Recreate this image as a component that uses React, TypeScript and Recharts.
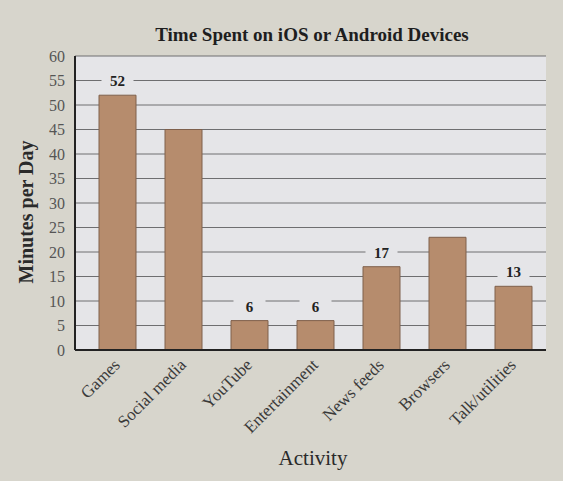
import React from 'react';
import { BarChart, Bar, XAxis, YAxis, CartesianGrid, LabelList } from 'recharts';

const activities = ['Games', 'Social media', 'YouTube', 'Entertainment', 'News feeds', 'Browsers', 'Talk/utilities'];
const minutes = [52, 45, 6, 6, 17, 23, 13];
// only some bars carry a value label in the original
const shownLabels = ['52', '', '6', '6', '17', '', '13'];
const yTicks = [0, 5, 10, 15, 20, 25, 30, 35, 40, 45, 50, 55, 60];

const data = activities.map((name, i) => ({ name, minutes: minutes[i], label: shownLabels[i] }));

const serif = '"Liberation Serif", "DejaVu Serif", serif';
const plotBg = '#e5e5e8';

const XTick = (props: any) => {
  const { x, y, payload } = props;
  return (
    <text
      x={x + 4}
      y={y + 8}
      transform={`rotate(-45, ${x + 4}, ${y + 8})`}
      textAnchor="end"
      fontFamily={serif}
      fontSize={17}
      fill="#3a3a3a"
    >
      {payload.value}
    </text>
  );
};

const ValueLabel = (props: any) => {
  const { x, y, width, value } = props;
  if (!value) return null;
  const cx = x + width / 2;
  return (
    <g>
      <rect x={cx - 16} y={y - 22} width={32} height={16} fill={plotBg} />
      <text x={cx} y={y - 9} textAnchor="middle" fontFamily={serif} fontWeight="bold" fontSize={15} fill="#222">
        {value}
      </text>
    </g>
  );
};

export default function App() {
  return (
    <div style={{ position: 'absolute', left: 0, top: 0, width: 563, height: 481, background: '#d7d5cc', overflow: 'hidden' }}>
      <div
        style={{
          position: 'absolute', left: 0, top: 24, width: 624, textAlign: 'center',
          fontFamily: serif, fontWeight: 'bold', fontSize: 19, color: '#1e1e1e',
        }}
      >
        Time Spent on iOS or Android Devices
      </div>
      <div
        style={{
          position: 'absolute', left: 26, top: 212, transform: 'translate(-50%, -50%) rotate(-90deg)',
          whiteSpace: 'nowrap', fontFamily: serif, fontWeight: 'bold', fontSize: 20, color: '#2a2a2a',
        }}
      >
        Minutes per Day
      </div>
      <div
        style={{
          position: 'absolute', left: 0, top: 446, width: 626, textAlign: 'center',
          fontFamily: serif, fontSize: 21, color: '#2a2a2a',
        }}
      >
        Activity
      </div>
      <BarChart
        width={563}
        height={481}
        data={data}
        margin={{ top: 56, right: 17, left: 10, bottom: 31 }}
        barSize={37}
      >
        <CartesianGrid horizontal vertical={false} fill={plotBg} stroke="#6e6e70" strokeWidth={1} />
        <XAxis
          dataKey="name"
          interval={0}
          tickLine={false}
          axisLine={{ stroke: '#222', strokeWidth: 2 }}
          tick={<XTick />}
          height={100}
          padding={{ left: 9, right: 0 }}
        />
        <YAxis
          domain={[0, 60]}
          ticks={yTicks}
          interval={0}
          tickLine={false}
          axisLine={{ stroke: '#222', strokeWidth: 2 }}
          width={65}
          tick={{ fontFamily: serif, fontSize: 16, fill: '#555' }}
          tickMargin={4}
        />
        <YAxis
          yAxisId="frame"
          orientation="right"
          domain={[0, 60]}
          tick={false}
          tickLine={false}
          axisLine={{ stroke: '#333', strokeWidth: 1.5 }}
          width={0}
        />
        <Bar dataKey="minutes" fill="#b68c6d" stroke="#7f604c" strokeWidth={1} isAnimationActive={false}>
          <LabelList dataKey="label" content={<ValueLabel />} />
        </Bar>
      </BarChart>
    </div>
  );
}
